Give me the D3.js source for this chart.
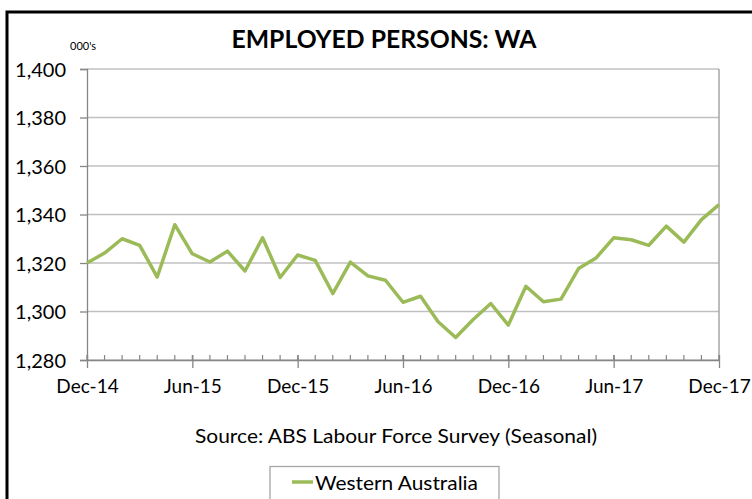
<!DOCTYPE html>
<html><head><meta charset="utf-8">
<script src="https://cdn.jsdelivr.net/npm/d3@7"></script>
<style>
html,body{margin:0;padding:0;background:#fff;}
svg{display:block;font-family:Lato,"Open Sans",sans-serif;}
</style></head>
<body>
<svg id="chart" width="752" height="499"></svg>
<script>
const months = ["Dec-14","Jan-15","Feb-15","Mar-15","Apr-15","May-15","Jun-15","Jul-15","Aug-15","Sep-15","Oct-15","Nov-15",
"Dec-15","Jan-16","Feb-16","Mar-16","Apr-16","May-16","Jun-16","Jul-16","Aug-16","Sep-16","Oct-16","Nov-16",
"Dec-16","Jan-17","Feb-17","Mar-17","Apr-17","May-17","Jun-17","Jul-17","Aug-17","Sep-17","Oct-17","Nov-17","Dec-17"];
const waEmployed = [1320.0,1324.1,1330.0,1327.3,1314.2,1335.8,1323.8,1320.4,1324.9,1316.7,1330.4,1314.0,
1323.3,1321.1,1307.4,1320.4,1314.7,1312.9,1303.8,1306.3,1295.8,1289.3,1296.7,1303.3,
1294.4,1310.4,1304.0,1305.1,1317.7,1322.1,1330.4,1329.6,1327.3,1335.2,1328.6,1337.9,1344.1];
const xTickLabels = ["Dec-14","Jun-15","Dec-15","Jun-16","Dec-16","Jun-17","Dec-17"];
const yTicks = [1280,1300,1320,1340,1360,1380,1400];
const seriesName = "Western Australia";
const titleText = "EMPLOYED PERSONS: WA";
const unitText = "000's";
const sourceText = "Source: ABS Labour Force Survey (Seasonal)";

const svg = d3.select("#chart");
const L = 87, R = 719, T = 69, B = 360;
const x = d3.scalePoint().domain(months).range([L, R]);
const y = d3.scaleLinear().domain([1280, 1400]).range([B, T]);
const fmt = d3.format(",");

// outer border
svg.append("path").attr("d", "M7,499 L7,12 L752,12")
  .attr("fill", "none").attr("stroke", "#000").attr("stroke-width", 3);

// gridlines
svg.append("g").selectAll("line").data(yTicks).join("line")
  .attr("x1", L).attr("x2", R).attr("y1", d => y(d)).attr("y2", d => y(d))
  .attr("stroke", "#c0c0c0").attr("stroke-width", 1.5);
// right border of plot
svg.append("line").attr("x1", R).attr("x2", R).attr("y1", T).attr("y2", B)
  .attr("stroke", "#a6a6a6").attr("stroke-width", 1.5);

// y axis
const yAxis = svg.append("g").attr("transform", `translate(${L},0)`)
  .call(d3.axisLeft(y).tickValues(yTicks).tickFormat(fmt).tickSize(7).tickPadding(14));
yAxis.select(".domain").attr("stroke", "#868686").attr("stroke-width", 1.3);
yAxis.selectAll(".tick line").attr("stroke", "#868686").attr("stroke-width", 1.3);
yAxis.selectAll(".tick text").attr("font-family", "Lato").attr("font-size", 20).attr("fill", "#000").attr("dy", "0.36em");

// x axis minor ticks (inside)
svg.append("g").selectAll("line").data(months).join("line")
  .attr("x1", d => x(d)).attr("x2", d => x(d)).attr("y1", B - 5).attr("y2", B)
  .attr("stroke", "#868686").attr("stroke-width", 1.2);
const xAxis = svg.append("g").attr("transform", `translate(0,${B})`)
  .call(d3.axisBottom(x).tickValues(xTickLabels).tickSizeInner(8).tickSizeOuter(0).tickPadding(12));
xAxis.select(".domain").attr("stroke", "#868686").attr("stroke-width", 1.3);
xAxis.selectAll(".tick line").attr("stroke", "#868686").attr("stroke-width", 1.3).attr("y1", -5);
xAxis.selectAll(".tick text").attr("font-family", "Lato").attr("font-size", 19).attr("fill", "#000");

// line
svg.append("path").datum(waEmployed)
  .attr("fill", "none").attr("stroke", "#9bbb59").attr("stroke-width", 3.5)
  .attr("stroke-linejoin", "round")
  .attr("d", d3.line().x((d, i) => x(months[i])).y(d => y(d)));

// title
svg.append("text").attr("x", 384).attr("y", 48).attr("text-anchor", "middle")
  .attr("font-family", "Lato").attr("font-weight", "bold").attr("font-size", 25)
  .attr("textLength", 305).attr("lengthAdjust", "spacingAndGlyphs").text(titleText);
svg.append("text").attr("x", 70).attr("y", 50).attr("font-size", 11).attr("font-family", "Lato").text(unitText);

// source
svg.append("text").attr("x", 396).attr("y", 443).attr("text-anchor", "middle")
  .attr("font-family", "Lato").attr("font-size", 19)
  .attr("textLength", 402).attr("lengthAdjust", "spacingAndGlyphs").text(sourceText);

// legend
const lg = svg.append("g");
lg.append("rect").attr("x", 270).attr("y", 466.5).attr("width", 229).attr("height", 40)
  .attr("fill", "#fff").attr("stroke", "#a6a6a6").attr("stroke-width", 1.3);
lg.append("line").attr("x1", 292).attr("x2", 313).attr("y1", 482).attr("y2", 482)
  .attr("stroke", "#9bbb59").attr("stroke-width", 3.5);
lg.append("text").attr("x", 315).attr("y", 490).attr("font-family", "Lato").attr("font-size", 20)
  .attr("textLength", 163).attr("lengthAdjust", "spacingAndGlyphs").text(seriesName);
</script>
</body></html>
